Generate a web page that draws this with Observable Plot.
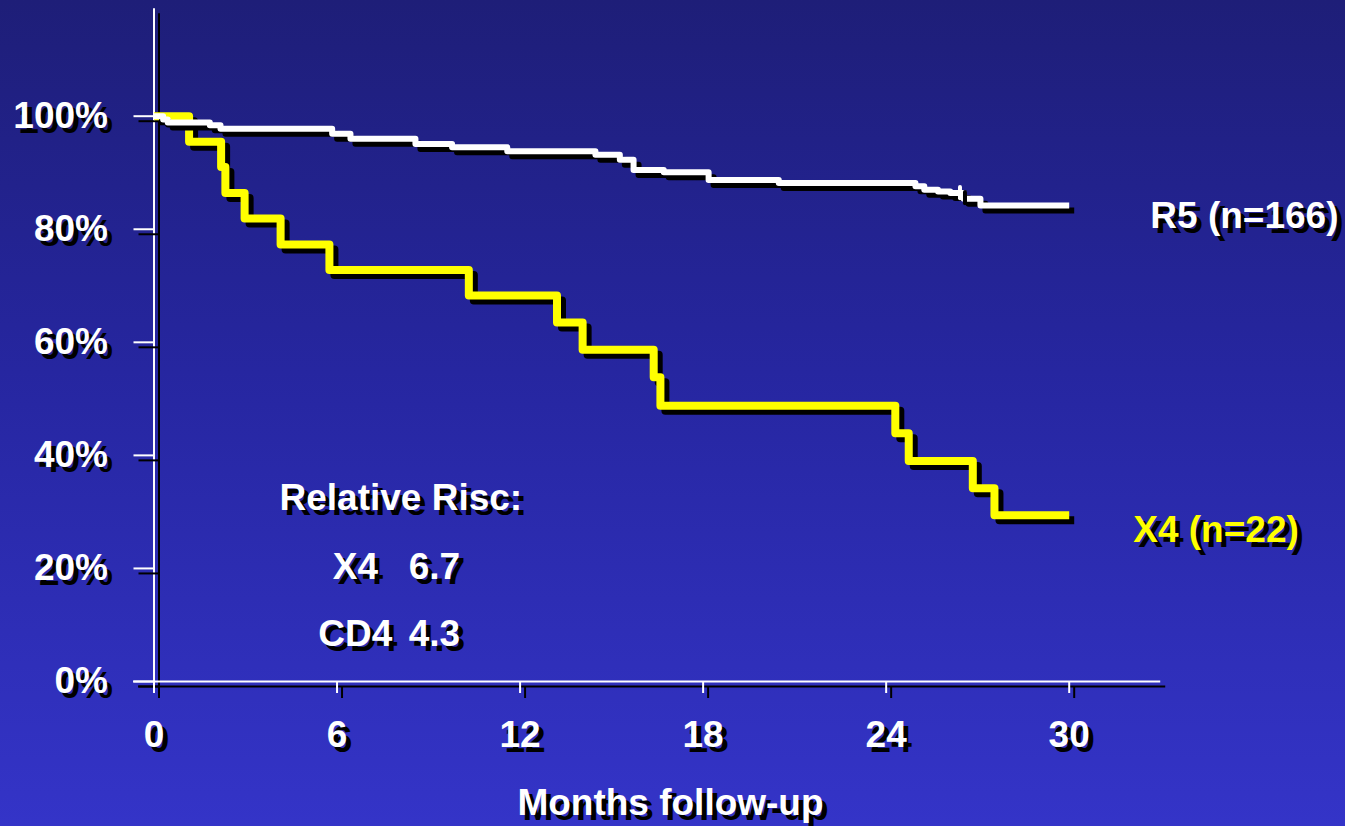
<!DOCTYPE html>
<html>
<head>
<meta charset="utf-8">
<script src="https://cdn.jsdelivr.net/npm/d3@7"></script>
<script src="https://cdn.jsdelivr.net/npm/@observablehq/plot@0.6"></script>
<style>
  html, body { margin: 0; padding: 0; background: #2a2aa8; overflow: hidden; }
  #chart svg { display: block; }
</style>
</head>
<body>
<div id="chart"></div>
<script>
// ---- Data ----
const r5Months   = [0, 0.30, 0.45, 1.83, 2.18, 5.84, 6.44, 8.57, 9.77, 11.58, 14.47, 15.27, 15.72, 16.71, 18.18, 20.48, 24.96, 25.25, 25.70, 26.10, 26.54, 27.09, 30];
const r5Survival = [100, 99.4, 98.9, 98.4, 97.8, 96.9, 96.0, 95.1, 94.5, 93.8, 93.2, 92.3, 90.5, 90.1, 88.7, 88.2, 87.6, 87.0, 86.7, 86.4, 85.4, 84.2, 84.2];
const r5CensorMonths   = [26.42];
const r5CensorSurvival = [86.4];

const x4Months   = [0, 1.15, 2.20, 2.34, 2.97, 4.15, 5.75, 10.32, 13.21, 14.05, 16.38, 16.60, 24.30, 24.74, 26.84, 27.55, 30];
const x4Survival = [100, 95.5, 91.0, 86.4, 81.9, 77.3, 72.8, 68.3, 63.5, 58.7, 53.8, 48.8, 43.9, 39.0, 34.2, 29.4, 29.4];

const seriesNames = ["R5 (n=166)", "X4 (n=22)"];
const riskTitle   = ["Relative Risc:"];
const riskFactors = ["X4", "CD4"];
const riskValues  = ["6.7", "4.3"];
const xTicks = [0, 6, 12, 18, 24, 30];
const yTicks = [0, 20, 40, 60, 80, 100];
const xTitle = ["Months follow-up"];

// ---- Build tables ----
const r5 = r5Months.map((t, i) => ({t, s: r5Survival[i]}));
const x4 = x4Months.map((t, i) => ({t, s: x4Survival[i]}));
const r5Censor = r5CensorMonths.map((t, i) => ({t, s: r5CensorSurvival[i]}));

const FONT = {fontSize: 37, fontWeight: "bold", fontFamily: "'Liberation Sans', Arial, sans-serif"};
const SH = 5; // shadow offset

function withShadow(makeMark, data, opts, color, shadowKeys) {
  const shadowOpts = {...opts, dx: (opts.dx || 0) + SH, dy: (opts.dy || 0) + SH};
  const mainOpts = {...opts};
  for (const k of shadowKeys) { shadowOpts[k] = "black"; mainOpts[k] = color; }
  return [makeMark(data, shadowOpts), makeMark(data, mainOpts)];
}

const yAxisExtent = [-2.1, 119];
const xAxisExtent = [-0.67, 33];

const chart = Plot.plot({
  width: 1345,
  height: 826,
  marginLeft: 153.5,
  marginRight: 276.3,
  marginTop: 115.7,
  marginBottom: 145,
  x: {domain: [0, 30], label: null},
  y: {domain: [0, 100], label: null},
  style: {
    background: "linear-gradient(to bottom, #1e1e78 0%, #2626a0 45%, #3434c8 100%)",
    fontFamily: "'Liberation Sans', Arial, sans-serif",
    fontWeight: "bold",
    overflow: "visible"
  },
  marks: [
    // axis lines
    ...withShadow(Plot.ruleX, [0], {x: d => d, y1: yAxisExtent[0], y2: yAxisExtent[1], strokeWidth: 2}, "white", ["stroke"]),
    ...withShadow(Plot.ruleY, [0], {y: d => d, x1: xAxisExtent[0], x2: xAxisExtent[1], strokeWidth: 2}, "white", ["stroke"]),
    // axes
    ...withShadow(Plot.axisY, yTicks, {tickSize: 20, tickPadding: 26, tickFormat: d => d + "%", strokeWidth: 2, label: null, ...FONT}, "white", ["stroke", "fill"]),
    ...withShadow(Plot.axisX, xTicks, {tickSize: 12, tickPadding: 27, tickFormat: d => String(d), strokeWidth: 2, label: null, ...FONT}, "white", ["stroke", "fill"]),
    // X4 curve
    ...withShadow(Plot.line, x4, {x: "t", y: "s", curve: "step-after", strokeWidth: 8, strokeLinejoin: "round", strokeLinecap: "butt"}, "#ffff00", ["stroke"]),
    // R5 curve
    ...withShadow(Plot.line, r5, {x: "t", y: "s", curve: "step-after", strokeWidth: 6, strokeLinejoin: "round", strokeLinecap: "butt"}, "white", ["stroke"]),
    ...withShadow(Plot.ruleX, r5Censor, {x: "t", y1: d => d.s + 1, y2: d => d.s - 1, strokeWidth: 4, strokeLinecap: "round"}, "white", ["stroke"]),
    // series labels
    ...withShadow(Plot.text, [seriesNames[0]], {text: d => d, x: 32.66, y: 82.4, textAnchor: "start", ...FONT}, "white", ["fill"]),
    ...withShadow(Plot.text, [seriesNames[1]], {text: d => d, x: 32.1, y: 26.7, textAnchor: "start", ...FONT}, "#ffff00", ["fill"]),
    // relative risk annotation
    ...withShadow(Plot.text, riskTitle, {text: d => d, x: 8.09, y: 32.5, textAnchor: "middle", ...FONT}, "white", ["fill"]),
    ...withShadow(Plot.text, riskFactors, {text: d => d, x: 6.6, y: (d, i) => [20.2, 8.3][i], textAnchor: "middle", ...FONT}, "white", ["fill"]),
    ...withShadow(Plot.text, riskValues, {text: d => d, x: 9.19, y: (d, i) => [20.2, 8.3][i], textAnchor: "middle", ...FONT}, "white", ["fill"]),
    // x title
    ...withShadow(Plot.text, xTitle, {text: d => d, x: 16.93, y: -21.6, textAnchor: "middle", ...FONT}, "white", ["fill"])
  ]
});
document.getElementById("chart").appendChild(chart);
</script>
</body>
</html>
